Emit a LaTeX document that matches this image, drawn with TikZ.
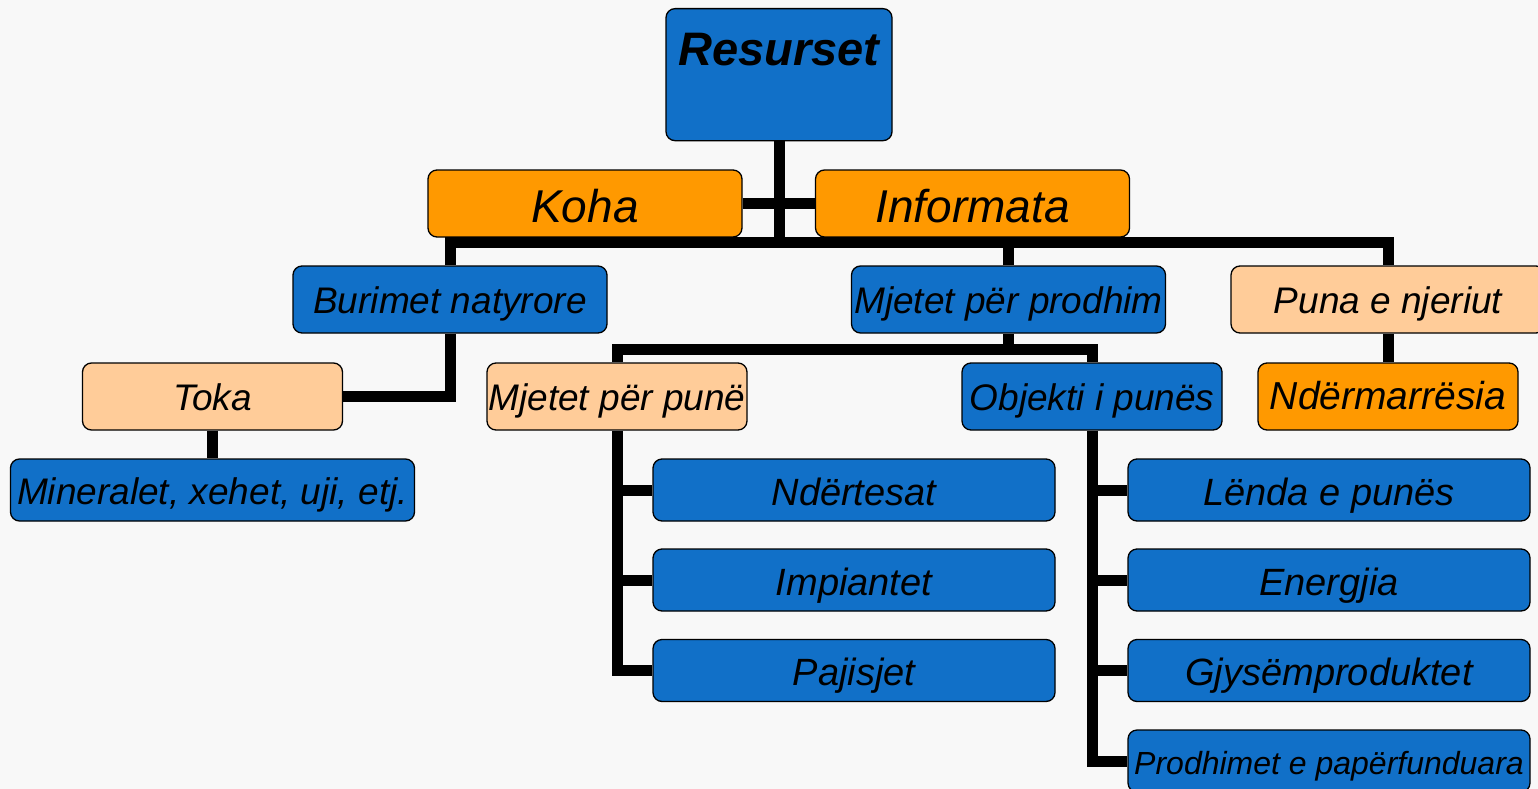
\documentclass[tikz,border=0pt]{standalone}
\usepackage{fontspec}
\setmainfont{Liberation Sans}
\usepackage{xcolor}
\usepackage{tikz}
\usetikzlibrary{calc}
\definecolor{blu}{RGB}{17,112,200}
\definecolor{ora}{RGB}{255,153,0}
\definecolor{pea}{RGB}{255,204,153}
\definecolor{bgc}{RGB}{248,248,248}

\begin{document}
\begin{tikzpicture}[x=1pt,y=-1pt,
            box/.style={draw,line width=1.3pt,rounded corners=9pt,inner sep=0pt,text height=27pt,text depth=0pt,font=\itshape\fontsize{37}{40}\selectfont},
            wbox/.style={box,minimum width=314pt,minimum height=67pt},
            sbox/.style={box,minimum width=260pt,minimum height=67pt},
            lbox/.style={box,fill=blu,minimum width=402pt,minimum height=62pt,text height=30pt,font=\itshape\fontsize{38}{40}\selectfont},
            conn/.style={line width=11pt}]
            \useasboundingbox (0,0) rectangle (1538,789);
            \fill[bgc] (0,0) rectangle (1538,789);

            \node[box,fill=blu,anchor=north,minimum width=226pt,text height=57pt,text depth=75pt,font=\bfseries\itshape\fontsize{47}{50}\selectfont] (res) at (779,8) {Resurset};
            \node[wbox,fill=ora,text height=37pt,font=\itshape\fontsize{46}{50}\selectfont] (koha) at (585,203.5) {Koha};
            \node[wbox,fill=ora,text height=37pt,font=\itshape\fontsize{46}{50}\selectfont] (inf) at (972.5,203.5) {Informata};

            \node[wbox,fill=blu] (bur) at (450,299.5) {Burimet natyrore};
            \node[wbox,fill=blu] (mpr) at (1008.5,299.5) {Mjetet për prodhim};
            \node[wbox,fill=pea] (pn) at (1388,299.5) {Puna e njeriut};

            \node[sbox,fill=pea] (toka) at (212.5,396.5) {Toka};
            \node[sbox,fill=pea] (mpu) at (617,396.5) {Mjetet për punë};
            \node[sbox,fill=blu] (obj) at (1092,396.5) {Objekti i punës};
            \node[sbox,fill=ora,text height=26pt,font=\itshape\fontsize{39}{40}\selectfont] (nd) at (1388,396.5) {Ndërmarrësia};

            \node[lbox,minimum width=404pt,text height=28pt,font=\itshape\fontsize{37}{40}\selectfont] (min) at (212.5,490) {Mineralet, xehet, uji, etj.};
            \node[lbox] (ndr) at (854,490) {Ndërtesat};
            \node[lbox] (imp) at (854,580) {Impiantet};
            \node[lbox] (paj) at (854,670.5) {Pajisjet};
            \node[lbox] (len) at (1329,490) {Lënda e punës};
            \node[lbox] (ene) at (1329,580) {Energjia};
            \node[lbox] (gjy) at (1329,670.5) {Gjysëmproduktet};
            \node[lbox,text height=26pt,font=\itshape\fontsize{32}{36}\selectfont] (prd) at (1329,761) {Prodhimet e papërfunduara};

            \coordinate (b1) at (779,242);
            \coordinate (b2) at (1008.5,349);
            \draw[conn] (res) -- (b1);
            \draw[conn] (koha) -- (inf);
            \draw[conn] (bur) |- (b1) -| (pn);
            \draw[conn] (mpr) -- (mpr |- b1);
            \draw[conn] (bur) |- (toka);
            \draw[conn] (toka.south) -- (min.north);
            \draw[conn] (mpr) -- (b2);
            \draw[conn] (mpu) |- (b2) -| (obj);
            \draw[conn] (pn.south) -- (nd.north);
            \draw[conn] (mpu) |- (paj);
            \foreach \n in {ndr,imp} \draw[conn] (mpu |- \n) -- (\n);
            \draw[conn] (obj) |- (prd);
            \foreach \n in {len,ene,gjy} \draw[conn] (obj |- \n) -- (\n);
        \end{tikzpicture}
\end{document}
